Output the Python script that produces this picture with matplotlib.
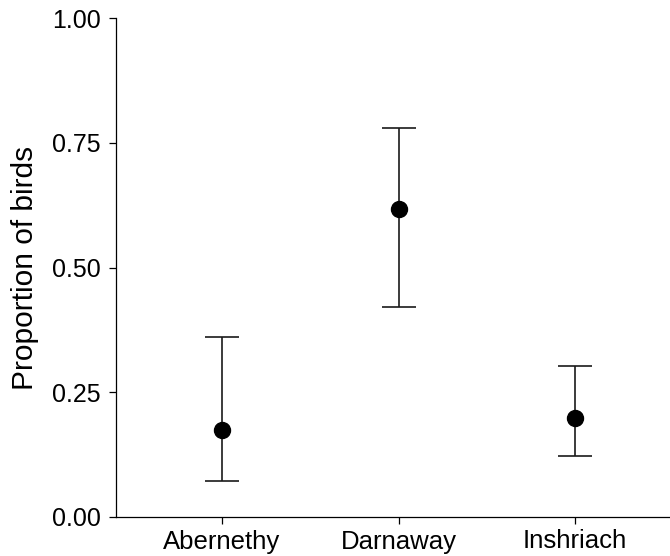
import numpy as np
from matplotlib import pyplot as plt

# Proportion of birds per site, with confidence limits
sites = ["Abernethy", "Darnaway", "Inshriach"]
proportion = [0.174, 0.617, 0.198]
lower = [0.072, 0.421, 0.122]
upper = [0.361, 0.779, 0.303]

plt.rcParams['font.family'] = ['Liberation Sans', 'DejaVu Sans']

fig = plt.figure(figsize=(6.7, 5.56), dpi=100)
ax = fig.add_axes([116 / 670, 39 / 556, 565 / 670, 499 / 556])

x = np.arange(1, len(sites) + 1)
yerr = [np.array(proportion) - np.array(lower), np.array(upper) - np.array(proportion)]
ax.errorbar(x, proportion, yerr=yerr, fmt='o', color='black', ecolor='#1a1a1a',
            elinewidth=1.2, capsize=12.5, capthick=1.2, markersize=11.5)

ax.set_xlim(0.4, 3.6)
ax.set_ylim(0, 1)
ax.set_xticks(x)
ax.set_xticklabels(sites)
ax.set_yticks([0, 0.25, 0.5, 0.75, 1.0])
ax.set_yticklabels(["0.00", "0.25", "0.50", "0.75", "1.00"])
ax.set_ylabel("Proportion of birds", fontsize=21.5)
ax.yaxis.set_label_coords(-77 / 565, 0.5)

ax.tick_params(axis='both', labelsize=18.5, length=5, width=0.9, colors='black')
ax.tick_params(axis='y', labelsize=18, pad=6)
ax.tick_params(axis='x', pad=4)
for side in ['top', 'right']:
    ax.spines[side].set_visible(False)
for side in ['left', 'bottom']:
    ax.spines[side].set_linewidth(0.9)

fig.savefig("out.png", dpi=100)
